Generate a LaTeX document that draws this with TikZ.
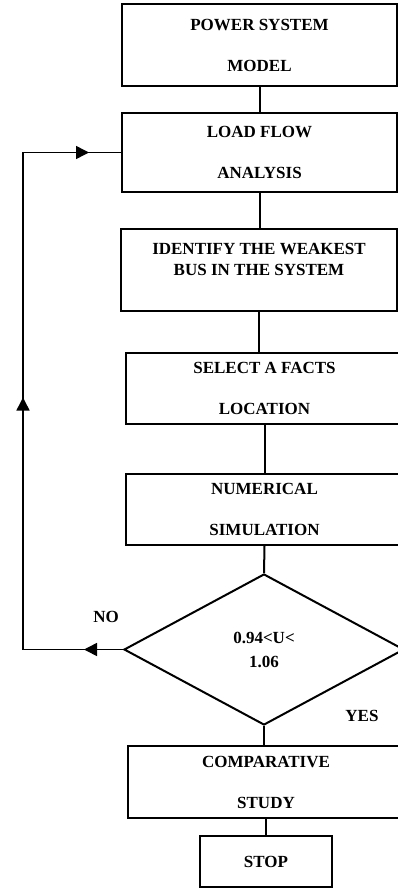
\documentclass[tikz,border=0pt]{standalone}
\usepackage{fontspec}
\setmainfont{Liberation Serif}
\usetikzlibrary{shapes.geometric}
\usetikzlibrary{arrows.meta}
\usetikzlibrary{decorations.markings}

\begin{document}
\begin{tikzpicture}[x = 1pt, y = -1pt, line width = 2pt,
  box/.style={draw, rectangle, inner sep = 0pt, align = center, font=\bfseries\fontsize{17}{41}\selectfont},
  decision/.style={draw, diamond, inner sep = 0pt, aspect = 1.85, align = center, font=\bfseries\fontsize{17}{24}\selectfont},
  lbl/.style={font=\bfseries\fontsize{17}{20}\selectfont, inner sep = 0pt},
  >={Triangle[length = 13pt, width = 13pt]}]
\useasboundingbox (0,0) rectangle (398,888);

% blocks of the flow chart
\path (259.5, 45) node[box, minimum width = 275, minimum height = 82] (model) {POWER SYSTEM\\MODEL};
\path (259.5, 152.5) node[box, minimum width = 275, minimum height = 79] (flow) {LOAD FLOW\\ANALYSIS};
\path (259, 270) node[box, minimum width = 276, minimum height = 82, font=\bfseries\fontsize{17}{21}\selectfont] (weak) {IDENTIFY THE WEAKEST\\BUS IN THE SYSTEM\\\mbox{}};
\path (264.5, 388.5) node[box, minimum width = 277, minimum height = 71] (facts) {SELECT A FACTS\\LOCATION};
\path (264.5, 509.5) node[box, minimum width = 277, minimum height = 71] (sim) {NUMERICAL\\SIMULATION};
\path (264, 649.5) node[decision, minimum width = 280, minimum height = 151] (check) {0.94<U<\\1.06};
\path (266, 782) node[box, minimum width = 276, minimum height = 72] (study) {COMPARATIVE\\STUDY};
\path (266, 861.5) node[box, minimum width = 132, minimum height = 51] (stop) {STOP};

\path (106, 617) node[lbl] (no) {NO};
\path (362, 716) node[lbl] (yes) {YES};

% straight links down the chain
\draw (model.south) -- (model.south |- flow.north);
\draw (flow.south) -- (flow.south |- weak.north);
\draw (weak.south) -- (weak.south |- facts.north);
\draw (facts.south) -- (facts.south |- sim.north);
\draw (sim.south) -- (check.north);
\draw (check.south) -- (check.south |- study.north);
\draw (study.south) -- (study.south |- stop.north);

% feedback loop back to the load flow
\coordinate (low) at (23, 649.5);
\coordinate (high) at (23, 152.5);
\draw[line width = 1.5pt, postaction={decorate}, decoration={markings,
    mark=at position 39pt with {\arrow{>}},
    mark=at position 352pt with {\arrow{>}},
    mark=at position 663pt with {\arrow{>}}}]
  (check.west) -- (low) -- (high) -- (flow.west);
\end{tikzpicture}
\end{document}
